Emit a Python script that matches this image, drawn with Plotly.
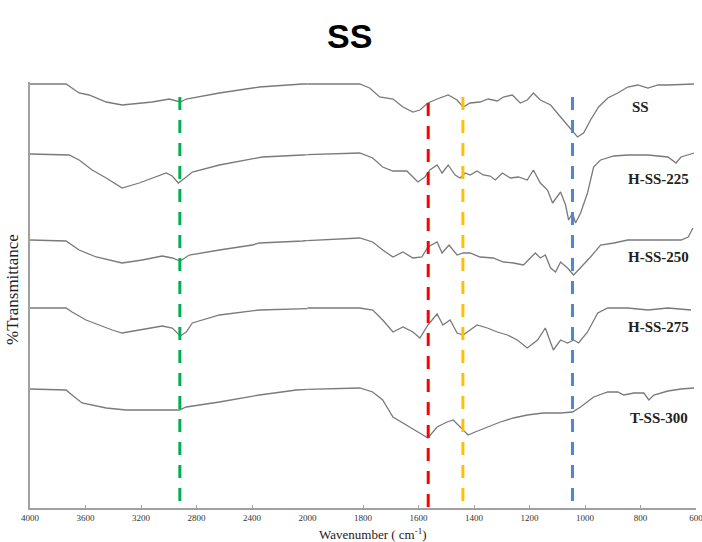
import plotly.graph_objects as go

# ---------------- data (wavenumber in cm-1, transmittance in arbitrary stacked units) ----------------
wn_ss = [4000, 3740, 3646, 3574, 3451, 3336, 3264, 3119, 2996, 2939, 2917, 2874, 2635, 2347, 2036,
         1812, 1776, 1740, 1692, 1656, 1620, 1595, 1566, 1533, 1493, 1461, 1439, 1414, 1378, 1349,
         1316, 1294, 1262, 1233, 1208, 1186, 1161, 1124, 1088, 1059, 1027, 1005, 980, 951, 918,
         882, 846, 810, 773, 737, 701, 607]
t_ss = [424, 424, 415, 413, 406, 403, 404, 406, 409, 407, 406, 409, 415, 421, 424,
        424, 420, 411, 409, 401, 396, 398, 405, 409, 413, 408, 401, 405, 406, 409,
        407, 411, 413, 405, 408, 415, 408, 403, 391, 381, 371, 375, 388, 401, 410,
        415, 421, 423, 420, 423, 423, 424]

wn_h225 = [4000, 3718, 3646, 3552, 3451, 3336, 3213, 3119, 3018, 2975, 2931, 2874, 2830, 2635, 2325,
           2036, 1812, 1765, 1729, 1692, 1642, 1620, 1602, 1577, 1559, 1533, 1515, 1493, 1468, 1450,
           1432, 1414, 1389, 1367, 1342, 1323, 1298, 1269, 1240, 1208, 1186, 1161, 1135, 1117, 1088,
           1070, 1059, 1045, 1034, 1016, 991, 969, 944, 896, 846, 773, 701, 672, 654, 607]
t_h225 = [354, 353, 348, 338, 330, 320, 325, 330, 335, 332, 325, 331, 336, 343, 351,
          353, 355, 350, 341, 337, 337, 331, 326, 331, 338, 343, 335, 343, 333, 330,
          335, 333, 337, 333, 332, 328, 335, 330, 331, 328, 338, 325, 318, 305, 316,
          303, 288, 295, 285, 295, 315, 341, 348, 352, 353, 353, 351, 345, 351, 355]

wn_h250 = [4000, 3740, 3646, 3523, 3336, 3191, 3047, 2975, 2917, 2852, 2635, 2397, 2347, 2036,
           1812, 1765, 1729, 1692, 1656, 1620, 1588, 1566, 1533, 1515, 1490, 1461, 1439, 1414, 1378,
           1331, 1294, 1258, 1222, 1197, 1179, 1161, 1143, 1124, 1106, 1088, 1063, 1041, 1016, 980,
           944, 896, 846, 752, 654, 628, 611]
t_h250 = [268, 267, 258, 251, 245, 248, 252, 250, 247, 253, 258, 263, 265, 267,
          270, 266, 258, 251, 256, 250, 251, 261, 266, 255, 263, 253, 255, 255, 251,
          250, 246, 245, 243, 250, 255, 250, 253, 240, 236, 246, 240, 233, 240, 251,
          263, 265, 268, 268, 268, 271, 280]

wn_h275 = [4000, 3740, 3697, 3596, 3408, 3336, 3047, 2975, 2917, 2874, 2830, 2635, 2347, 2036,
           1812, 1765, 1729, 1692, 1656, 1620, 1595, 1566, 1533, 1512, 1486, 1461, 1439, 1414, 1389,
           1352, 1316, 1280, 1244, 1208, 1171, 1143, 1124, 1114, 1088, 1063, 1041, 1023, 991, 954,
           918, 846, 773, 701, 618]
t_h275 = [200, 200, 196, 188, 178, 175, 182, 180, 172, 176, 185, 193, 198, 200,
          200, 198, 188, 176, 181, 176, 170, 183, 194, 183, 188, 175, 173, 178, 183,
          180, 176, 173, 168, 160, 168, 180, 166, 158, 168, 165, 168, 165, 176, 195,
          200, 200, 198, 200, 198]

wn_t300 = [4000, 3740, 3697, 3625, 3451, 3307, 2924, 2874, 2635, 2347, 2080,
           1812, 1765, 1729, 1692, 1642, 1595, 1566, 1533, 1497, 1475, 1450, 1421, 1396, 1352,
           1305, 1258, 1208, 1150, 1088, 1045, 1016, 969, 918, 882, 860, 824, 788, 770, 752,
           701, 654, 607]
t_t300 = [119, 118, 113, 105, 100, 98, 98, 101, 106, 113, 118,
          120, 116, 108, 91, 83, 75, 70, 81, 86, 88, 81, 73, 76, 81,
          86, 90, 93, 95, 95, 96, 101, 111, 116, 116, 113, 115, 115, 108, 113,
          117, 119, 120]

sample_names = ["SS", "H-SS-225", "H-SS-250", "H-SS-275", "T-SS-300"]
peak_wn = [2920, 1565, 1440, 1045]
peak_colors = ["#00b050", "#ff0000", "#ffc000", "#4f86d6"]
ticks_high = [4000, 3600, 3200, 2800, 2400]
ticks_low = [2000, 1800, 1600, 1400, 1200, 1000, 800, 600]
BREAK = 2000

series = [(wn_ss, t_ss), (wn_h225, t_h225), (wn_h250, t_h250), (wn_h275, t_h275), (wn_t300, t_t300)]

# ---------------- figure ----------------
fig = go.Figure()
curve_style = dict(color="#7a7a7a", width=1.3)

for wn, t in series:
    last_hi = max(i for i, w in enumerate(wn) if w >= BREAK)
    first_lo = min(i for i, w in enumerate(wn) if w <= BREAK)
    i1 = list(range(0, min(last_hi + 2, len(wn))))
    i2 = list(range(max(first_lo - 1, 0), len(wn)))
    fig.add_trace(go.Scatter(x=[wn[i] for i in i1], y=[t[i] for i in i1], xaxis="x", yaxis="y",
                             mode="lines", line=curve_style, showlegend=False, hoverinfo="skip"))
    fig.add_trace(go.Scatter(x=[wn[i] for i in i2], y=[t[i] for i in i2], xaxis="x2", yaxis="y",
                             mode="lines", line=curve_style, showlegend=False, hoverinfo="skip"))

# dashed marker lines
peak_tops = [411, 405, 411, 411]
for w, c, top in zip(peak_wn, peak_colors, peak_tops):
    fig.add_shape(type="line", xref="x" if w >= BREAK else "x2", yref="y",
                  x0=w, x1=w, y0=top, y1=0,
                  line=dict(color=c, width=3, dash="13px,10px"))

# sample labels
label_pos = [(800, 401), (734, 329), (734, 251), (734, 181), (734, 90)]
for name, (lx, ly) in zip(sample_names, label_pos):
    fig.add_annotation(x=lx, y=ly, xref="x2", yref="y", text="<b>%s</b>" % name, showarrow=False,
                       font=dict(family="Liberation Serif", size=15, color="#222222"),
                       xanchor="center", yanchor="middle")

serif = "Liberation Serif"
axis_common = dict(showline=True, linecolor="#a0a0a0", linewidth=1.5, ticks="inside", ticklen=3,
                   tickcolor="#a0a0a0", tickwidth=1, showgrid=False, zeroline=False,
                   ticklabeloverflow="allow", automargin=False,
                   tickfont=dict(family=serif, size=9, color="#333333"), anchor="y", fixedrange=True)

fig.update_layout(
    width=702, height=542,
    margin=dict(l=30, r=6, t=82, b=34, autoexpand=False),
    paper_bgcolor="white", plot_bgcolor="white",
    xaxis=dict(domain=[0, 5 / 12], range=[4000, 2000], tickvals=ticks_high,
               ticktext=[str(v) for v in ticks_high], **axis_common),
    xaxis2=dict(domain=[5 / 12, 1], range=[2000, 600], tickvals=ticks_low,
                ticktext=[str(v) for v in ticks_low], **axis_common),
    yaxis=dict(range=[0, 426], showline=True, linecolor="#a0a0a0", linewidth=1.5,
               showticklabels=False, ticks="", showgrid=False, zeroline=False, fixedrange=True),
)

fig.add_annotation(x=0.48, y=1.108, xref="paper", yref="paper", text="<b>SS</b>", showarrow=False,
                   font=dict(family="Liberation Sans", size=34, color="black"),
                   xanchor="center", yanchor="middle")
fig.add_annotation(x=0.515, y=-0.062, xref="paper", yref="paper",
                   text="Wavenumber ( cm<sup>-1</sup>)", showarrow=False,
                   font=dict(family=serif, size=13, color="#222222"),
                   xanchor="center", yanchor="middle")
fig.add_annotation(x=0, y=0.512, xref="paper", yref="paper", xshift=-17,
                   text="%Transmittance", textangle=-90, showarrow=False,
                   font=dict(family=serif, size=17, color="#222222"),
                   xanchor="center", yanchor="middle")

fig.write_html("out.html")
